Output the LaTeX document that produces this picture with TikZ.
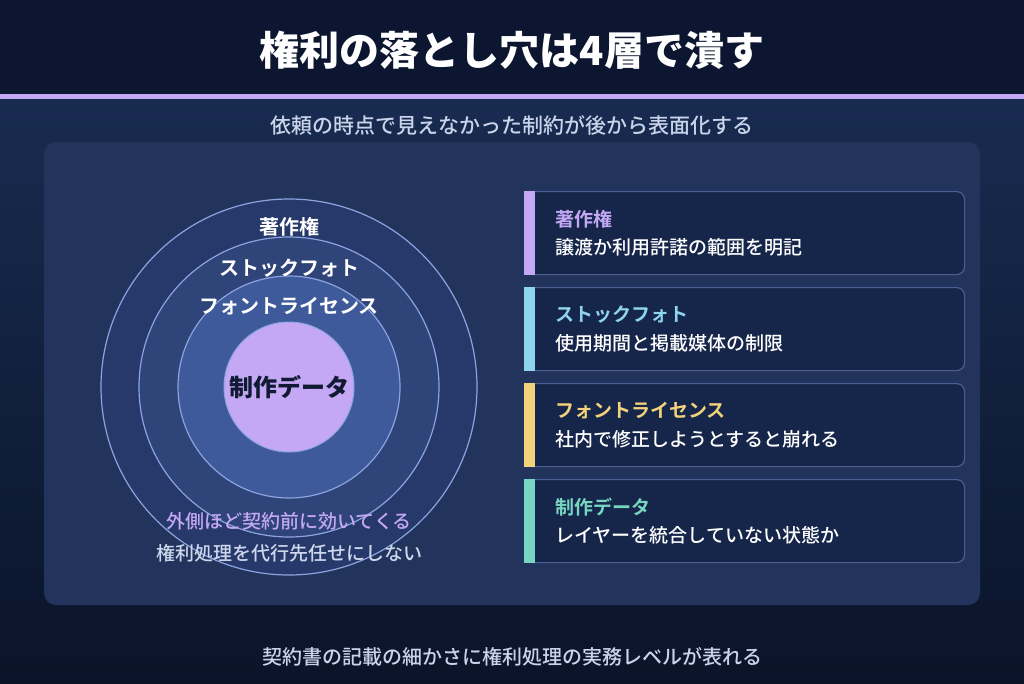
\documentclass[tikz,border=0pt]{standalone}
\usepackage{fontspec}
\setmainfont{Noto Sans CJK JP}[BoldFont=* Bold]
\newfontfamily\medfont{Noto Sans CJK JP}[UprightFont=* Medium]
\newfontfamily\heavyfont{Noto Sans CJK JP}[UprightFont=* Black]
\usetikzlibrary{positioning}
\definecolor{cnight}{HTML}{0C1630}
\definecolor{cdeep}{HTML}{0A1429}
\definecolor{cnavy}{HTML}{182B50}
\definecolor{cpanel}{HTML}{22345C}
\definecolor{ccard}{HTML}{16264A}
\definecolor{cedge}{HTML}{4A5F91}
\definecolor{cring}{HTML}{8CA3E0}
\definecolor{cringa}{HTML}{26396A}
\definecolor{cringb}{HTML}{2F4478}
\definecolor{cringc}{HTML}{3F5A9B}
\definecolor{clav}{HTML}{C4A8F5}
\definecolor{ccyan}{HTML}{8FD4EE}
\definecolor{cgold}{HTML}{F3D27C}
\definecolor{cteal}{HTML}{76D6C2}
\definecolor{cpale}{HTML}{C9D3EA}
\definecolor{cink}{HTML}{111A33}
\tikzset{
  every picture/.style={x=1pt, y=1pt},
  ring/.style={circle, draw=cring, line width=1.2pt, fill=#1, inner sep=0pt},
  ringlabel/.style={font=\fontsize{20}{24}\selectfont\bfseries, text=white, inner sep=0pt},
  card/.style={draw=cedge, fill=ccard, rounded corners=8pt, line width=1.2pt, minimum width=440pt, minimum height=83pt, inner sep=0pt},
  cardtitle/.style={font=\fontsize{19}{23}\selectfont\bfseries, text=#1, anchor=west, inner sep=0pt},
  cardtext/.style={font=\fontsize{19}{23}\medfont, text=white, anchor=west, inner sep=0pt},
  note/.style={font=\fontsize{19}{23}\medfont, text=cpale, inner sep=0pt},
  title/.style={font=\fontsize{40}{46}\heavyfont, text=white, inner sep=0pt},
}
\begin{document}
\begin{tikzpicture}
  \useasboundingbox (0,0) rectangle (1024,-683);
  % background, header and panel
  \shade[top color=cnavy, bottom color=cdeep] (0,-99) rectangle (1024,-683);
  \fill[cnight] (0,0) rectangle (1024,-94);
  \fill[clav] (0,-94) rectangle (1024,-99);
  \node[title] (heading) at (512,-50) {権利の落とし穴は4層で潰す};
  \node[note, font=\fontsize{21}{25}\medfont] (lead) at (512,-125) {依頼の時点で見えなかった制約が後から表面化する};
  \fill[cpanel, rounded corners=12pt] (44,-142) rectangle (980,-605);
  % rings
  \node[ring=cringa, minimum size=376pt] (layer1) at (289,-387) {};
  \node[ring=cringb, minimum size=300pt] (layer2) at (layer1.center) {};
  \node[ring=cringc, minimum size=222pt] (layer3) at (layer1.center) {};
  \node[ring=clav, minimum size=130pt, line width=1pt] (core) at (layer1.center) {};
  \node[ringlabel] (lab1) at (289,-227) {著作権};
  \node[ringlabel] (lab2) at (289,-268) {ストックフォト};
  \node[ringlabel] (lab3) at (289,-306) {フォントライセンス};
  \node[ringlabel, text=cink, font=\fontsize{24}{28}\heavyfont] (lab4) at (core) {制作データ};
  \node[note, text=clav] (hint) at (289,-521) {外側ほど契約前に効いてくる};
  \node[note, text=cpale!90!white] (rule) at (289,-553) {権利処理を代行先任せにしない};
  % cards
  \foreach \i/\ttl/\txt/\col in {0/著作権/譲渡か利用許諾の範囲を明記/clav, 1/ストックフォト/使用期間と掲載媒体の制限/ccyan, 2/フォントライセンス/社内で修正しようとすると崩れる/cgold, 3/制作データ/レイヤーを統合していない状態か/cteal} {
    \node[card, anchor=north west] (card\i) at (524,-191-96*\i) {};
    \fill[\col] (card\i.north west) rectangle ([xshift=11pt]card\i.south west);
    \node[cardtitle=\col] (head\i) at ([xshift=31pt, yshift=-28pt]card\i.north west) {\ttl};
    \node[cardtext] (desc\i) at ([xshift=31pt, yshift=-56pt]card\i.north west) {\txt};
  }
  \node[note, font=\fontsize{20}{24}\medfont] (foot) at (512,-657) {契約書の記載の細かさに権利処理の実務レベルが表れる};
\end{tikzpicture}
\end{document}
